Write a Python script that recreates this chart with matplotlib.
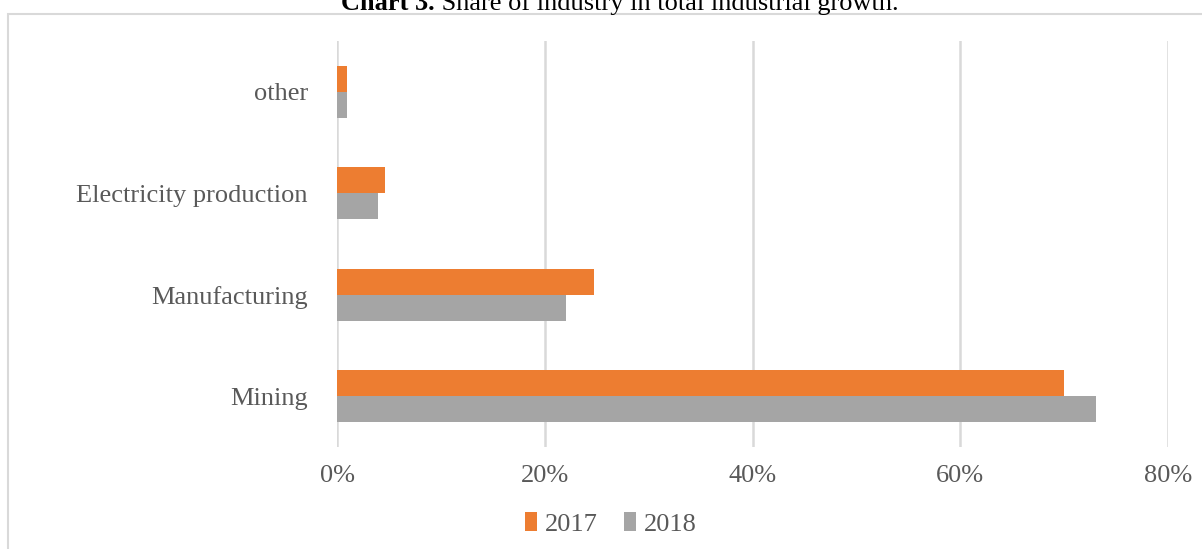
import matplotlib
matplotlib.use('Agg')
from matplotlib import pyplot as plt
from matplotlib.patches import Rectangle
from matplotlib.ticker import PercentFormatter
import numpy as np

# data (share of total industrial growth, %)
categories = ['Mining', 'Manufacturing', 'Electricity production', 'other']
share_2017 = [70.0, 24.7, 4.6, 1.0]
share_2018 = [73.1, 22.0, 3.9, 1.0]
xticks = [0, 20, 40, 60, 80]

colors = ['#ED7D31', '#A5A5A5']
text_color = '#595959'
plt.rcParams['font.family'] = ['Liberation Serif', 'DejaVu Serif']

fig = plt.figure(figsize=(12.02, 5.49), dpi=100, facecolor='w')
ax = fig.add_axes([0.2804, 0.186, 0.6913, 0.7394])

y = np.arange(len(categories))
h = 0.255
ax.barh(y + h / 2, share_2017, height=h, color=colors[0], label='2017', zorder=3)
ax.barh(y - h / 2, share_2018, height=h, color=colors[1], label='2018', zorder=3)

ax.set_xlim(0, 80)
ax.set_ylim(-0.5, 3.5)
ax.set_xticks(xticks)
ax.xaxis.set_major_formatter(PercentFormatter(decimals=0))
ax.set_yticks(y)
ax.set_yticklabels(categories)
ax.tick_params(axis='both', length=0, labelsize=19, colors=text_color)
ax.tick_params(axis='x', pad=13)
ax.tick_params(axis='y', pad=21)
ax.grid(axis='x', color='#D9D9D9', linewidth=1.8, zorder=0)
for s in ax.spines.values():
    s.set_visible(False)

leg = ax.legend(loc='center', bbox_to_anchor=(0.33, -0.19), ncol=2, frameon=False,
                fontsize=19, handlelength=0.45, handleheight=0.7, handletextpad=0.3,
                columnspacing=1.0)
for t in leg.get_texts():
    t.set_color(text_color)

# outer chart frame and the clipped caption above it
fig.patches.append(Rectangle((8 / 1202, -0.05), 1.2, 1 - 14 / 549 + 0.05,
                             transform=fig.transFigure, fill=False,
                             edgecolor='#D9D9D9', linewidth=1.5))
fig.text(0.362, 1 - 10 / 549, 'Chart 3.', ha='right', va='baseline', fontsize=19,
         fontweight='bold', color='black')
fig.text(0.362, 1 - 10 / 549, ' Share of industry in total industrial growth.',
         ha='left', va='baseline', fontsize=19, color='black')

fig.savefig('out.png', dpi=100, facecolor='w')
